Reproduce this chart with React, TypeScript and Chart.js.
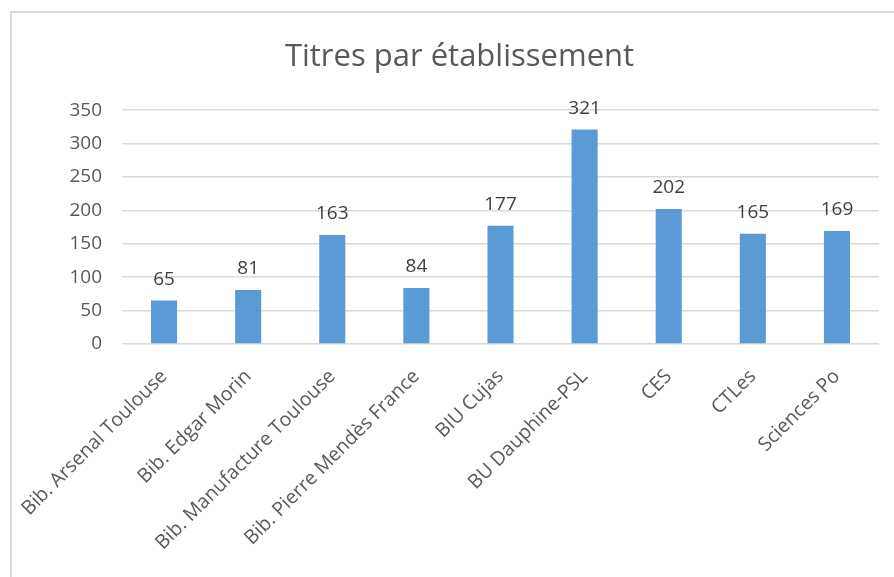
import React, { useEffect, useRef } from "react";
import { Chart, registerables } from "chart.js";

Chart.register(...registerables);

const chartTitle = "Titres par établissement";
const categories = [
  "Bib. Arsenal Toulouse",
  "Bib. Edgar Morin",
  "Bib. Manufacture Toulouse",
  "Bib. Pierre Mendès France",
  "BIU Cujas",
  "BU Dauphine-PSL",
  "CES",
  "CTLes",
  "Sciences Po",
];
const titleCounts = [65, 81, 163, 84, 177, 321, 202, 165, 169];
const yMin = 0;
const yMax = 350;
const yStep = 50;

const FONT = "'Open Sans', 'DejaVu Sans', sans-serif";

const dataLabelPlugin = {
  id: "dataLabels",
  afterDatasetsDraw(chart: any) {
    const ctx = chart.ctx;
    ctx.save();
    ctx.font = `19px ${FONT}`;
    ctx.fillStyle = "#404040";
    ctx.textAlign = "center";
    ctx.textBaseline = "alphabetic";
    chart.data.datasets.forEach((ds: any, di: number) => {
      const meta = chart.getDatasetMeta(di);
      meta.data.forEach((bar: any, i: number) => {
        ctx.fillText(String(ds.data[i]), bar.x, bar.y - 16);
      });
    });
    ctx.restore();
  },
};

export default function App() {
  const canvasRef = useRef<HTMLCanvasElement | null>(null);

  useEffect(() => {
    if (!canvasRef.current) return;
    const chart = new Chart(canvasRef.current, {
      type: "bar",
      data: {
        labels: categories,
        datasets: [
          {
            label: "Titres",
            data: titleCounts,
            backgroundColor: "#5B9BD5",
            borderWidth: 0,
            barPercentage: 0.31,
            categoryPercentage: 1,
          },
        ],
      },
      options: {
        animation: false,
        responsive: false,
        devicePixelRatio: 1,
        layout: { padding: { left: 40, right: 15, top: 0, bottom: 0 } },
        plugins: {
          legend: { display: false },
          tooltip: { enabled: false },
          title: {
            display: true,
            text: chartTitle,
            color: "#595959",
            font: { family: FONT, size: 31, weight: "normal" as any, lineHeight: 1.2 },
            padding: { top: 39, bottom: 34 },
          },
        },
        scales: {
          x: {
            grid: { display: false },
            border: { display: false },
            ticks: {
              color: "#595959",
              font: { family: FONT, size: 19.5 },
              minRotation: 45,
              maxRotation: 45,
              autoSkip: false,
              padding: 13,
            },
            afterFit(scale: any) {
              scale.height = 233;
            },
          },
          y: {
            min: yMin,
            max: yMax,
            ticks: {
              stepSize: yStep,
              color: "#595959",
              font: { family: FONT, size: 19 },
              padding: 20,
            },
            grid: { color: "#d9d9d9", lineWidth: 1.5, drawTicks: false },
            border: { display: false },
            afterFit(scale: any) {
              scale.width = 82;
            },
          },
        },
      },
      plugins: [dataLabelPlugin],
    });
    return () => chart.destroy();
  }, []);

  return (
    <div style={{ position: "absolute", left: 0, top: 0, width: 894, height: 577, background: "#fff", overflow: "hidden" }}>
      <div
        style={{
          position: "absolute",
          left: 10,
          top: 11,
          width: 900,
          height: 600,
          borderLeft: "2px solid #d9d9d9",
          borderTop: "2px solid #d9d9d9",
        }}
      />
      <canvas
        ref={canvasRef}
        width={894}
        height={577}
        style={{ position: "absolute", left: 0, top: 0, width: 894, height: 577 }}
      />
    </div>
  );
}
